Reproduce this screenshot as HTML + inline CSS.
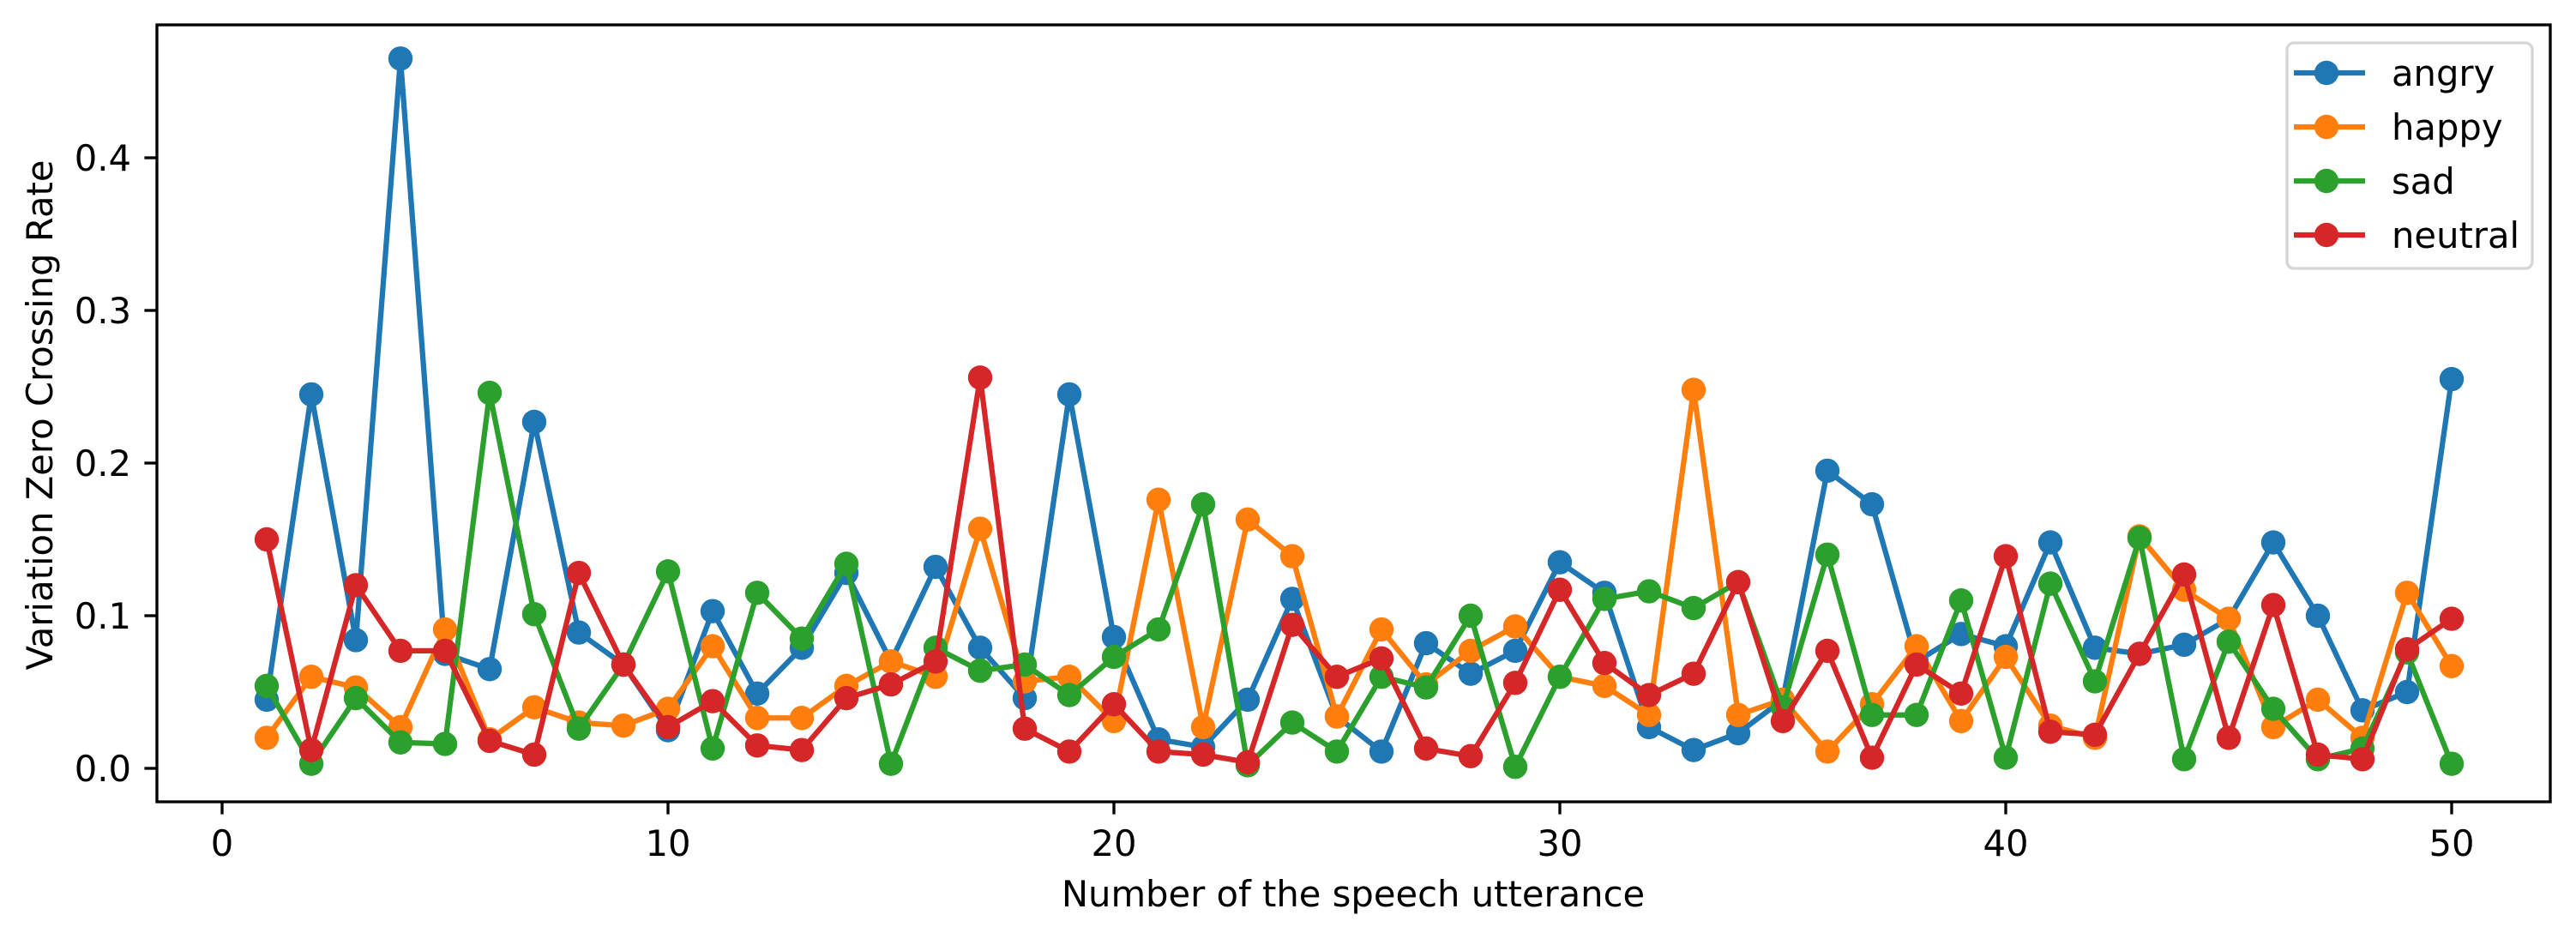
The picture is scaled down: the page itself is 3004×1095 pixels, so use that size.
<!DOCTYPE html>
<html><head><meta charset="utf-8"><style>
html,body{margin:0;padding:0;background:#fff;}
svg{display:block;font-family:"DejaVu Sans","Liberation Sans",sans-serif;}
</style></head><body>
<svg id="chart" width="3004" height="1095" viewBox="0 0 3004 1095" xmlns="http://www.w3.org/2000/svg">
<rect x="0" y="0" width="3004" height="1095" fill="#fff"/>
<g id="plot"></g>
<g id="axes"></g>
<g id="legend"></g>
</svg>
<script>
const xCategories = [1,2,3,4,5,6,7,8,9,10,11,12,13,14,15,16,17,18,19,20,21,22,23,24,25,26,27,28,29,30,31,32,33,34,35,36,37,38,39,40,41,42,43,44,45,46,47,48,49,50];
const angryValues = [0.045,0.245,0.084,0.465,0.075,0.065,0.227,0.089,0.068,0.025,0.103,0.049,0.079,0.128,0.07,0.132,0.079,0.046,0.245,0.086,0.019,0.014,0.045,0.111,0.034,0.011,0.082,0.062,0.077,0.135,0.115,0.027,0.012,0.023,0.045,0.195,0.173,0.07,0.088,0.08,0.148,0.079,0.075,0.081,0.098,0.148,0.1,0.038,0.05,0.255];
const happyValues = [0.02,0.06,0.053,0.027,0.091,0.019,0.04,0.03,0.028,0.039,0.08,0.033,0.033,0.054,0.07,0.06,0.157,0.057,0.06,0.031,0.176,0.027,0.163,0.139,0.034,0.091,0.055,0.077,0.093,0.06,0.054,0.035,0.248,0.035,0.045,0.011,0.042,0.08,0.031,0.073,0.028,0.02,0.152,0.117,0.098,0.027,0.045,0.02,0.115,0.067];
const sadValues = [0.054,0.003,0.046,0.017,0.016,0.246,0.101,0.026,0.068,0.129,0.013,0.115,0.085,0.134,0.003,0.079,0.064,0.068,0.048,0.073,0.091,0.173,0.002,0.03,0.011,0.06,0.053,0.1,0.001,0.06,0.111,0.116,0.105,0.122,0.04,0.14,0.035,0.035,0.11,0.007,0.121,0.057,0.151,0.006,0.083,0.039,0.006,0.013,0.076,0.003];
const neutralValues = [0.15,0.012,0.12,0.077,0.077,0.018,0.009,0.128,0.068,0.027,0.044,0.015,0.012,0.046,0.055,0.07,0.256,0.026,0.011,0.042,0.011,0.009,0.004,0.094,0.06,0.072,0.013,0.008,0.056,0.117,0.069,0.048,0.062,0.122,0.031,0.077,0.007,0.068,0.049,0.139,0.024,0.022,0.075,0.127,0.02,0.107,0.009,0.006,0.078,0.098];
const seriesNames = ["angry","happy","sad","neutral"];
const xTicks = [0,10,20,30,40,50];
const xTickLabels = ["0","10","20","30","40","50"];
const yTicks = [0,0.1,0.2,0.3,0.4];
const yTickLabels = ["0.0","0.1","0.2","0.3","0.4"];

const NS = "http://www.w3.org/2000/svg";
const L = 183, R = 2974, T = 29, B = 935;
function xs(v){ return 259 + v * 52; }
function ys(v){ return 896 - v * 1780; }
function mk(tag, attrs, parent){
  const e = document.createElementNS(NS, tag);
  for (const k in attrs) e.setAttribute(k, attrs[k]);
  parent.appendChild(e);
  return e;
}
const colors = ["#1f77b4","#ff7f0e","#2ca02c","#d62728"];
const allSeries = [angryValues, happyValues, sadValues, neutralValues];
const plot = document.getElementById("plot");
const axes = document.getElementById("axes");
const legend = document.getElementById("legend");

allSeries.forEach((vals, si) => {
  const g = mk("g", {}, plot);
  
  
  const pts = vals.map((v, i) => xs(xCategories[i]).toFixed(1) + "," + ys(v).toFixed(1)).join(" ");
  const pl = mk("polyline", {points: pts, fill: "none", stroke: colors[si], "stroke-width": 6.25, "stroke-linejoin": "round", "stroke-linecap": "square"}, g);
  
  
  vals.forEach((v, i) => {
    const c = mk("circle", {cx: xs(xCategories[i]), cy: ys(v), r: 14.2, fill: colors[si]}, g);
    
    
  });
});

const frame = mk("rect", {x: L, y: T, width: R - L, height: B - T, fill: "none", stroke: "#000", "stroke-width": 3.33}, axes);



xTicks.forEach((t, i) => {
  const x = xs(t);
  const tk = mk("line", {x1: x, x2: x, y1: B, y2: B + 14.6, stroke: "#000", "stroke-width": 3.33}, axes);
  
  
  const tx = mk("text", {x: x, y: 998, "font-size": 41.7, "text-anchor": "middle", fill: "#000"}, axes);
  tx.textContent = xTickLabels[i];
  
  
});
yTicks.forEach((t, i) => {
  const y = ys(t);
  const tk = mk("line", {x1: L - 14.6, x2: L, y1: y, y2: y, stroke: "#000", "stroke-width": 3.33}, axes);
  
  
  const tx = mk("text", {x: 153, y: y + 15, "font-size": 41.7, "text-anchor": "end", fill: "#000"}, axes);
  tx.textContent = yTickLabels[i];
  
  
});
const xl = mk("text", {x: 1578, y: 1057, "font-size": 41.7, "text-anchor": "middle", fill: "#000"}, axes);
xl.textContent = "Number of the speech utterance";


const yl = mk("text", {x: 0, y: 0, "font-size": 41.7, "text-anchor": "middle", fill: "#000", transform: "translate(61,484) rotate(-90)"}, axes);
yl.textContent = "Variation Zero Crossing Rate";



const lb = mk("rect", {x: 2667, y: 50, width: 286, height: 263, rx: 8, fill: "#fff", "fill-opacity": 0.8, stroke: "#d6d6d6", "stroke-width": 3.33}, legend);


seriesNames.forEach((n, i) => {
  const y = 85 + i * 63;
  const g = mk("g", {}, legend);
  
  
  mk("line", {x1: 2675, x2: 2758, y1: y, y2: y, stroke: colors[i], "stroke-width": 6.25}, g);
  mk("circle", {cx: 2713, cy: y, r: 14.2, fill: colors[i]}, g);
  const t = mk("text", {x: 2789, y: y + 15, "font-size": 41.7, fill: "#000"}, g);
  t.textContent = n;
  
  
});
</script>
</body></html>
